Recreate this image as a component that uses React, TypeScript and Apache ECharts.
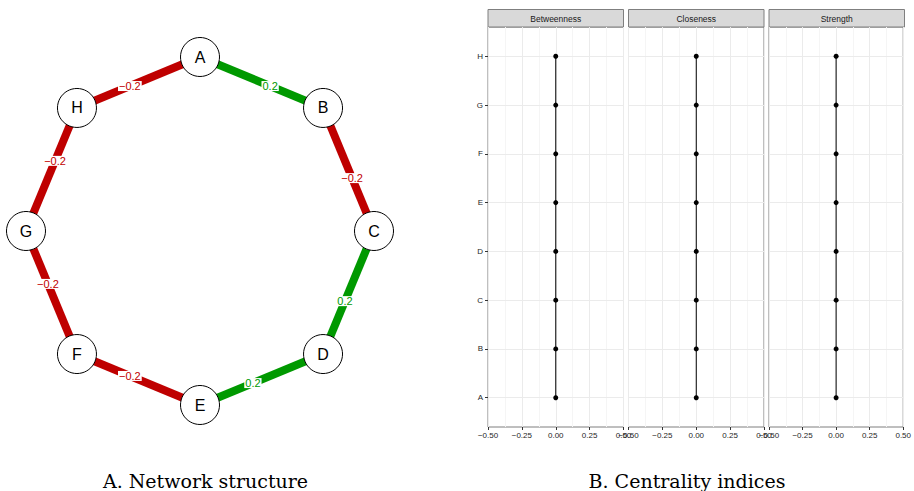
import React, { useEffect, useRef } from "react";
import * as echarts from "echarts";

const nodeNames = ["A", "B", "C", "D", "E", "F", "G", "H"];
const edgeSources = ["A", "A", "B", "C", "D", "E", "F", "G"];
const edgeTargets = ["B", "H", "C", "D", "E", "F", "G", "H"];
const edgeWeights = [0.2, -0.2, -0.2, 0.2, 0.2, -0.2, -0.2, -0.2];

const measures = ["Betweenness", "Closeness", "Strength"];
const betweenness = [0, 0, 0, 0, 0, 0, 0, 0];
const closeness = [0, 0, 0, 0, 0, 0, 0, 0];
const strength = [0, 0, 0, 0, 0, 0, 0, 0];
const measureValues = [betweenness, closeness, strength];
const xTicks = [-0.5, -0.25, 0, 0.25, 0.5];

const POS = "#009900";
const NEG = "#BF0000";
const SANS = "Liberation Sans, Arial, sans-serif";
const AXIS_TXT = "#262626";

function fmtNum(v: number, d: number) {
  const s = Math.abs(v).toFixed(d);
  return v < 0 ? "\u2212" + s : s;
}

export default function App() {
  const ref = useRef<HTMLDivElement>(null);
  useEffect(() => {
    if (!ref.current) return;
    const chart = echarts.init(ref.current, null, { renderer: "svg" });

    // circular layout (octagon) for the network
    const nodePos: Record<string, [number, number]> = {};
    nodeNames.forEach((n, i) => {
      const a = (i * 2 * Math.PI) / nodeNames.length;
      nodePos[n] = [Math.sin(a), Math.cos(a)];
    });

    const panelLefts = [488, 628.5, 769];
    const panelW = 135.5;
    const panelTop = 27;
    const panelH = 400;

    const richTxt = {
      t: { color: AXIS_TXT, fontSize: 8, fontFamily: SANS },
    };

    const grids: any[] = panelLefts.map((l) => ({
      left: l,
      top: panelTop,
      width: panelW,
      height: panelH,
      show: true,
      backgroundColor: "#fff",
      borderColor: "#7f7f7f",
      borderWidth: 1,
    }));
    grids.push({ left: 26, top: 57, width: 348, height: 348, show: false });

    const xAxes: any[] = panelLefts.map((_, i) => ({
      type: "value",
      gridIndex: i,
      position: "bottom",
      min: xTicks[0],
      max: xTicks[xTicks.length - 1],
      interval: 0.25,
      axisLine: { show: false, onZero: false },
      axisTick: { show: true, length: 3, lineStyle: { color: "#333" } },
      axisLabel: {
        show: true,
        fontSize: 8,
        color: AXIS_TXT,
        fontFamily: SANS,
        margin: 4,
        showMinLabel: true,
        showMaxLabel: true,
        hideOverlap: false,
        rich: richTxt,
        formatter: (v: number) => "{t|" + fmtNum(v, 2) + "}",
      },
      splitLine: { show: true, lineStyle: { color: "#ebebeb", width: 1 } },
      minorTick: { show: false, splitNumber: 2 },
      minorSplitLine: { show: true, lineStyle: { color: "#f5f5f5", width: 1 } },
    }));
    xAxes.push({ type: "value", gridIndex: 3, min: -1, max: 1, show: false });

    const idx = nodeNames.map((_, i) => i);
    const yAxes: any[] = panelLefts.map((_, i) => ({
      type: "value",
      gridIndex: i,
      position: "left",
      min: -0.6,
      max: 7.6,
      axisLine: { show: false, onZero: false },
      axisTick: {
        show: i === 0,
        length: 3,
        customValues: idx,
        lineStyle: { color: "#333" },
      },
      axisLabel: {
        show: i === 0,
        customValues: idx,
        fontSize: 8,
        color: AXIS_TXT,
        fontFamily: SANS,
        margin: 5,
        rich: richTxt,
        formatter: (v: number) => "{t|" + (nodeNames[Math.round(v)] ?? "") + "}",
      },
      splitLine: { show: false },
    }));
    yAxes.push({ type: "value", gridIndex: 3, min: -1, max: 1, show: false });

    const series: any[] = measureValues.map((vals, i) => ({
      type: "line",
      xAxisIndex: i,
      yAxisIndex: i,
      data: vals.map((v, j) => [v, j]),
      symbol: "circle",
      symbolSize: 5,
      showSymbol: true,
      lineStyle: { color: "#000", width: 1 },
      itemStyle: { color: "#000" },
      z: 3,
      markLine: {
        silent: true,
        symbol: "none",
        label: { show: false },
        lineStyle: { color: "#ebebeb", width: 1, type: "solid" },
        data: idx.map((k) => ({ yAxis: k })),
        z: 1,
      },
    }));

    series.push({
      type: "graph",
      coordinateSystem: "cartesian2d",
      xAxisIndex: 3,
      yAxisIndex: 3,
      symbol: "circle",
      symbolSize: 39,
      data: nodeNames.map((n) => ({ name: n, value: nodePos[n] })),
      links: edgeSources.map((s, i) => ({
        source: s,
        target: edgeTargets[i],
        value: edgeWeights[i],
        lineStyle: { color: edgeWeights[i] > 0 ? POS : NEG },
      })),
      label: {
        show: true,
        position: "inside",
        fontSize: 16,
        color: "#000",
        fontFamily: SANS,
        formatter: "{b}",
      },
      itemStyle: { color: "#fff", borderColor: "#000", borderWidth: 1 },
      lineStyle: { width: 8, opacity: 1, curveness: 0 },
      emphasis: { disabled: true },
      silent: true,
      z: 2,
    });

    const t = 0.57;
    series.push({
      type: "scatter",
      xAxisIndex: 3,
      yAxisIndex: 3,
      symbolSize: 0,
      silent: true,
      itemStyle: { opacity: 1 },
      z: 4,
      data: edgeSources.map((s, i) => {
        const a = nodePos[s];
        const b = nodePos[edgeTargets[i]];
        const col = edgeWeights[i] > 0 ? POS : NEG;
        return {
          value: [a[0] + t * (b[0] - a[0]), a[1] + t * (b[1] - a[1])],
          itemStyle: { opacity: 1 },
          label: {
            show: true,
            position: "inside",
            formatter: fmtNum(edgeWeights[i], 1),
            color: col,
            opacity: 1,
            backgroundColor: "#fff",
            padding: [0, 1],
            fontSize: 11,
            lineHeight: 10,
            fontFamily: SANS,
          },
        };
      }),
    });

    const graphic: any[] = [];
    panelLefts.forEach((l, i) => {
      graphic.push({
        type: "rect",
        shape: { x: l, y: 9.5, width: panelW, height: 17.5 },
        style: { fill: "#d9d9d9", stroke: "#7f7f7f", lineWidth: 1 },
        silent: true,
      });
      graphic.push({
        type: "text",
        x: l + panelW / 2,
        y: 18.5,
        style: {
          text: measures[i],
          fontSize: 8.5,
          fontFamily: SANS,
          fill: "#1a1a1a",
          align: "center",
          verticalAlign: "middle",
        },
        silent: true,
      });
    });
    graphic.push({
      type: "text",
      x: 205.5,
      y: 481,
      style: {
        text: "A. Network structure",
        fontSize: 19,
        fontFamily: "DejaVu Serif, serif",
        fill: "#000",
        align: "center",
        verticalAlign: "middle",
      },
    });
    graphic.push({
      type: "text",
      x: 687,
      y: 481,
      style: {
        text: "B. Centrality indices",
        fontSize: 19,
        fontFamily: "DejaVu Serif, serif",
        fill: "#000",
        align: "center",
        verticalAlign: "middle",
      },
    });

    chart.setOption({
      animation: false,
      backgroundColor: "#fff",
      grid: grids,
      xAxis: xAxes,
      yAxis: yAxes,
      series,
      graphic,
    });
    return () => chart.dispose();
  }, []);
  return (
    <div
      ref={ref}
      style={{ position: "fixed", left: 0, top: 0, width: 914, height: 491 }}
    />
  );
}
